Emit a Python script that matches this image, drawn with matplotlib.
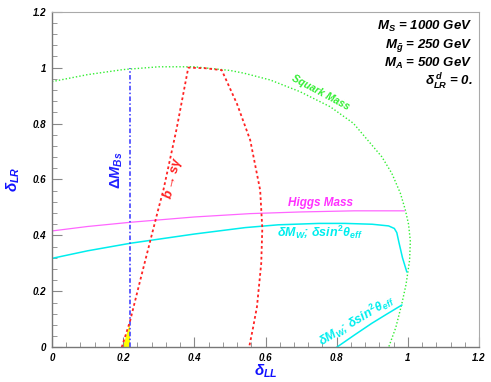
import numpy as np
import matplotlib
matplotlib.use('Agg')
import matplotlib.pyplot as plt
from matplotlib.ticker import MultipleLocator, FuncFormatter

plt.rcParams['font.family'] = ['Liberation Sans', 'DejaVu Sans']
plt.rcParams['mathtext.fontset'] = 'custom'
plt.rcParams['mathtext.it'] = 'Liberation Sans:bold:italic'
plt.rcParams['mathtext.rm'] = 'Liberation Sans:bold'
plt.rcParams['mathtext.bf'] = 'Liberation Sans:bold:italic'

# squark mass contour
sq_x = [0.0, 0.1, 0.2, 0.3, 0.4, 0.5, 0.54, 0.613, 0.697, 0.782, 0.847, 0.927, 0.955, 0.979,
        0.993, 1.002, 1.007, 1.005, 0.995, 0.983, 0.966, 0.946]
sq_y = [0.95, 0.975, 0.993, 1.003, 1.003, 0.99, 0.98, 0.956, 0.914, 0.86, 0.801, 0.681, 0.622, 0.551,
        0.491, 0.44, 0.38, 0.312, 0.225, 0.155, 0.07, 0.0]

# Higgs mass contour
hg_x = [0.0, 0.1, 0.22, 0.4, 0.557, 0.7, 0.85, 0.99]
hg_y = [0.416, 0.432, 0.447, 0.466, 0.478, 0.484, 0.488, 0.488]

# dMW / dsin2theta contours
ew1_x = [0.0, 0.1, 0.22, 0.4, 0.543, 0.636, 0.75, 0.824, 0.9, 0.946, 0.962, 0.969, 0.975, 0.985, 0.997]
ew1_y = [0.318, 0.345, 0.372, 0.405, 0.428, 0.438, 0.443, 0.443, 0.44, 0.434, 0.425, 0.41, 0.375, 0.32, 0.27]
ew2_x = [0.8, 0.85, 0.899, 0.94, 0.983]
ew2_y = [0.0, 0.044, 0.086, 0.118, 0.151]

# Delta M_Bs
bs_x = [0.219, 0.219]
bs_y = [0.0, 1.0]

# b -> s gamma
bsg_x = [0.196, 0.219, 0.25, 0.3, 0.313, 0.35, 0.383, 0.43, 0.477, 0.52, 0.557, 0.585, 0.591, 0.588, 0.576, 0.565, 0.554]
bsg_y = [0.0, 0.092, 0.25, 0.5, 0.562, 0.78, 1.0, 0.998, 0.991, 0.87, 0.741, 0.562, 0.425, 0.3, 0.145, 0.07, 0.0]

# allowed region
al_x = [0.199, 0.219, 0.219]
al_y = [0.0, 0.0, 0.092]

fig = plt.figure(figsize=(4.91, 3.82), dpi=100)
ax = fig.add_axes([52/491, 1 - 347.3/382, 427/491, 335.6/382])

ax.fill(al_x, al_y, color='#ffff00', lw=0, zorder=1)
ax.plot(sq_x, sq_y, color='#33ee33', ls=(0, (1, 1.5)), lw=1.0)
ax.plot(hg_x, hg_y, color='#ff66ff', lw=0.9)
ax.plot(ew1_x, ew1_y, color='#00eeee', lw=1.1)
ax.plot(ew2_x, ew2_y, color='#00eeee', lw=1.1)
ax.plot(bs_x, bs_y, color='#3333ff', ls=(0, (3, 1.5, 1, 1.5)), lw=1.1)
ax.plot(bsg_x, bsg_y, color='#ff2222', ls=(0, (1.5, 1.5)), lw=1.3)

ax.set_xlim(0, 1.2)
ax.set_ylim(0, 1.2)
ax.xaxis.set_major_locator(MultipleLocator(0.2))
ax.yaxis.set_major_locator(MultipleLocator(0.2))
ax.xaxis.set_minor_locator(MultipleLocator(0.04))
ax.yaxis.set_minor_locator(MultipleLocator(0.04))
fmt = FuncFormatter(lambda v, p: ('%g' % round(v, 2)))
ax.xaxis.set_major_formatter(fmt)
ax.yaxis.set_major_formatter(fmt)
ax.tick_params(which='both', direction='in', color='#888888')
ax.tick_params(which='major', length=7, width=0.8, labelsize=7, pad=4)
ax.tick_params(which='minor', length=3.5, width=0.6)
for lab in ax.get_xticklabels() + ax.get_yticklabels():
    lab.set_fontweight('bold')
    lab.set_fontstyle('italic')
for s in ['left', 'bottom']:
    ax.spines[s].set_color('#777777')
    ax.spines[s].set_linewidth(1.0)
for s in ['top', 'right']:
    ax.spines[s].set_color('#aaaaaa')
    ax.spines[s].set_linewidth(0.8)

ax.set_xlabel(r'$\delta_{LL}$', color='#1111ff', fontsize=11, labelpad=0)
ax.set_ylabel(r'$\delta_{LR}$', color='#1111ff', fontsize=11, labelpad=8)

params = [r'$M_S$ = 1000 GeV', r'$M_{\tilde{g}}$ = 250 GeV', r'$M_A$ = 500 GeV', r'$\delta^{\,d}_{LR}$ = 0.']
for i, t in enumerate(params):
    ax.text(0.985, 0.955 - i * 0.055, t, transform=ax.transAxes, ha='right', va='center',
            fontsize=9.5, fontweight='bold', fontstyle='italic')

ax.text(0.754, 0.912, 'Squark Mass', color='#33ee33', fontsize=7.5, fontweight='bold',
        fontstyle='italic', rotation=-28, ha='center', va='center')
ax.text(0.754, 0.517, 'Higgs Mass', color='#ff33ff', fontsize=8.5, fontweight='bold',
        fontstyle='italic', ha='center', va='center')
ax.text(0.754, 0.41, r'$\delta M_W$; $\delta sin^2\theta_{eff}$', color='#00eeee', fontsize=9,
        fontweight='bold', fontstyle='italic', ha='center', va='center')
ax.text(0.868, 0.068, r'$\delta M_W$; $\delta sin^2\theta_{eff}$', color='#00eeee', fontsize=9,
        fontweight='bold', fontstyle='italic', rotation=31, rotation_mode='anchor',
        ha='center', va='bottom')
ax.text(0.182, 0.632, r'$\Delta M_{Bs}$', color='#2222ff', fontsize=10.5, rotation=90,
        ha='center', va='center')
ax.text(0.341, 0.604, r'$b \rightarrow s\gamma$', color='#ff2222', fontsize=9.5, rotation=76.6,
        ha='center', va='center')

fig.savefig('out.png', dpi=100)
